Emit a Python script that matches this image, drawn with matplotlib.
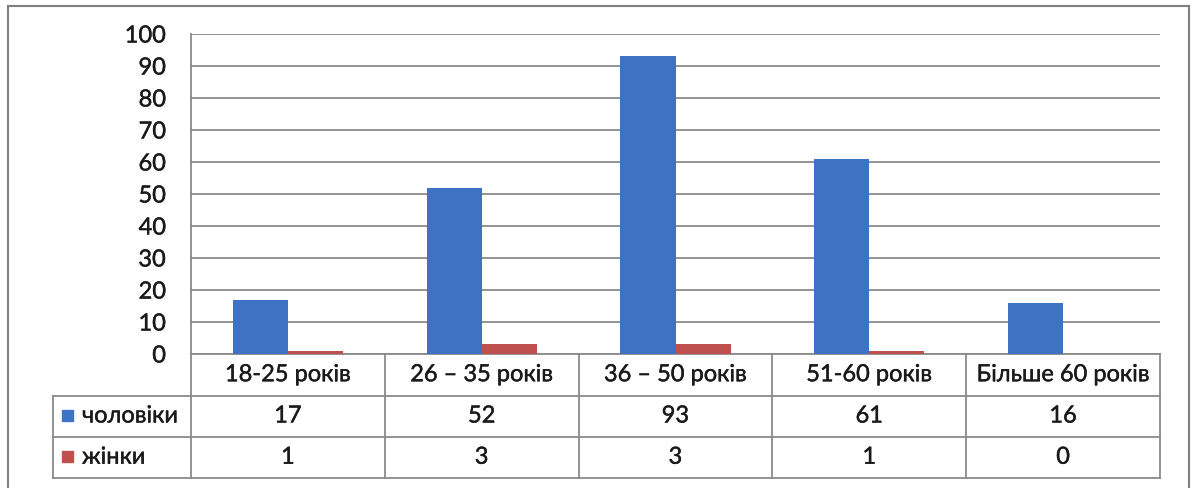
import matplotlib
matplotlib.use("Agg")
import matplotlib.pyplot as plt
import matplotlib.transforms as mtransforms
import matplotlib.patheffects as pe
from matplotlib.patches import Rectangle
from matplotlib.lines import Line2D

categories = ["18-25 років", "26 – 35 років", "36 – 50 років", "51-60 років", "Більше 60 років"]
series_names = ["чоловіки", "жінки"]
men = [17, 52, 93, 61, 16]
women = [1, 3, 3, 1, 0]
yticks = [0, 10, 20, 30, 40, 50, 60, 70, 80, 90, 100]

colors = ["#3d73c2", "#c0504d"]
grid_c = "#8a8a8a"

plt.rcParams['font.family'] = ['Lato', 'DejaVu Sans']
FS = 17
TC = "#1a1a1a"
PE = [pe.withStroke(linewidth=0.3, foreground=TC)]

W, H = 1194, 489
fig = plt.figure(figsize=(W / 100, H / 100), dpi=100)
fig.patch.set_facecolor("white")

def fx(px):
    return px / W

def fy(py):
    return 1 - py / H

left, right, top, bottom = 191, 1160, 35, 355
ax = fig.add_axes([fx(left), fy(bottom), fx(right) - fx(left), fy(top) - fy(bottom)])

n = len(categories)
x = list(range(n))
bw = 0.284
ax.bar([i - bw / 2 for i in x], men, width=bw, color=colors[0], zorder=3)
ax.bar([i + bw / 2 for i in x], women, width=bw, color=colors[1], zorder=3)

ax.set_xlim(-0.5, n - 0.5)
ax.set_ylim(0, 100)
ax.set_yticks(yticks)
ax.set_yticklabels([str(v) for v in yticks], fontsize=FS, color=TC)
for t in ax.get_yticklabels():
    t.set_path_effects(PE)
ax.tick_params(axis='y', length=0, pad=18)
ax.set_xticks([])
for s in ["top", "right", "bottom"]:
    ax.spines[s].set_visible(False)
ax.spines["left"].set_color(grid_c)
ax.spines["left"].set_linewidth(1.3)
ax.yaxis.grid(True, color=grid_c, linewidth=1.3, zorder=0)
ax.set_axisbelow(True)

# data table below the axes (axes-fraction y, data x)
trans = mtransforms.blended_transform_factory(ax.transData, ax.transAxes)
tra = ax.transAxes
ah = bottom - top
r0 = 0.0
r1 = -(396.5 - bottom) / ah
r2 = -(437.5 - bottom) / ah
r3 = -(479 - bottom) / ah
xl = (53 - left) / (right - left)

def line(xs, ys, transform):
    ax.add_line(Line2D(xs, ys, transform=transform, color=grid_c, linewidth=1.3, clip_on=False))

line([0, 1], [r0, r0], tra)
line([xl, 1], [r1, r1], tra)
line([xl, 1], [r2, r2], tra)
line([xl, 1], [r3, r3], tra)
line([xl, xl], [r1, r3], tra)
line([0, 0], [r0, r3], tra)
for k in range(1, n + 1):
    xb = k - 0.5
    line([xb, xb], [r0, r3], trans)

kw = dict(transform=trans, ha="center", va="center", fontsize=FS, color=TC, path_effects=PE)
for i, c in enumerate(categories):
    ax.text(i, (r0 + r1) / 2, c, **kw)
for i, v in enumerate(men):
    ax.text(i, (r1 + r2) / 2, str(v), **kw)
for i, v in enumerate(women):
    ax.text(i, (r2 + r3) / 2, str(v), **kw)

for j, (name, yy) in enumerate(zip(series_names, [(r1 + r2) / 2, (r2 + r3) / 2])):
    ycen_px = bottom - yy * ah
    fig.patches.append(Rectangle((fx(62), fy(ycen_px + 5)), 11 / W, 11 / H,
                                 transform=fig.transFigure, color=colors[j]))
    fig.text(fx(82), fy(ycen_px), name, ha="left", va="center", fontsize=FS, color=TC,
             path_effects=PE)

for xs, ys in [([8, 8], [7, 489]), ([8, 1189], [7, 7]), ([1189, 1189], [7, 489])]:
    fig.lines.append(Line2D([fx(v) for v in xs], [fy(v) for v in ys], transform=fig.transFigure,
                            color="#7f7f7f", linewidth=1.5))

fig.savefig("out.png", dpi=100, facecolor="white")
